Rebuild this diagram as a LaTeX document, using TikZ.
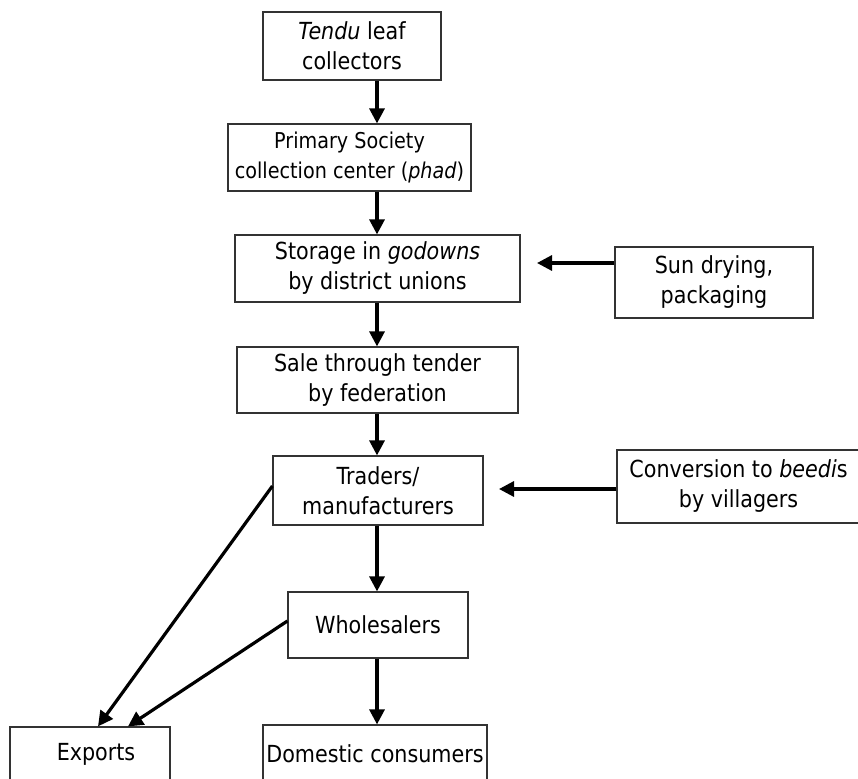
\documentclass[tikz,border=0pt]{standalone}
\usepackage{fontspec}
\setmainfont{DejaVu Sans}[FakeStretch=0.88]
\usetikzlibrary{arrows.meta,calc}
\begin{document}
\begin{tikzpicture}[x=1pt,y=-1pt,
  box/.style={draw=black!80,line width=1.2pt,rectangle,inner sep=0pt,
    align=center,font=\fontsize{23.5pt}{30pt}\selectfont},
  arr/.style={line width=3.2pt,-{Triangle[length=15pt,width=15pt]}}]
\useasboundingbox (0,0) rectangle (858,778);
\clip (0,0) rectangle (858,778);

% main chain
\node[box,minimum width=178pt,minimum height=68pt] (collect) at (352,46)
  {\textit{Tendu} leaf\\collectors};
\node[box,minimum width=243pt,minimum height=67pt,
  font=\fontsize{21.8pt}{30pt}\selectfont] (phad) at (349.5,157.5)
  {Primary Society\\collection center (\textit{phad})};
\node[box,minimum width=285pt,minimum height=67pt] (store) at (377.5,268.5)
  {Storage in \textit{godowns}\\by district unions};
\node[box,minimum width=281pt,minimum height=66pt] (sale) at (377.5,380)
  {Sale through tender\\by federation};
\node[box,minimum width=210pt,minimum height=69pt] (traders) at (378,490.5)
  {Traders/\\manufacturers};
\node[box,minimum width=180pt,minimum height=66pt] (whole) at (378,625)
  {Wholesalers};
\node[box,minimum width=160pt,minimum height=54pt] (exports) at (90,754)
  {\hspace*{12pt}Exports};
\node[box,minimum width=224pt,minimum height=58pt] (domestic) at (375,754)
  {Domestic consumers};

% side inputs
\node[box,minimum width=198pt,minimum height=71pt] (sun) at (714,282.5)
  {Sun drying,\\packaging};
\node[box,minimum width=243pt,minimum height=73pt] (beedi) at (738.5,486.5)
  {Conversion to \textit{beedi}s\\by villagers};

% common vertical axis of the chain, and free arrow ends
\coordinate (axis) at (377,0);
\coordinate (sunTip) at (537,263);
\coordinate (beediTip) at (499,489);

% vertical flow
\draw[arr] (collect.south -| axis) -- (phad.north -| axis);
\draw[arr] (phad.south -| axis) -- (store.north -| axis);
\draw[arr] (store.south -| axis) -- (sale.north -| axis);
\draw[arr] (sale.south -| axis) -- (traders.north -| axis);
\draw[arr] (traders.south -| axis) -- (whole.north -| axis);
\draw[arr] (whole.south -| axis) -- (domestic.north -| axis);

% side arrows
\draw[arr] (sun.west |- sunTip) -- (sunTip);
\draw[arr] (beedi.west |- beediTip) -- (beediTip);

% export routes
\draw[arr] ([yshift=4.5pt]traders.west) -- ([xshift=8pt]exports.north);
\draw[arr] ([yshift=4pt]whole.west) -- ([xshift=38pt]exports.north);
\end{tikzpicture}
\end{document}
